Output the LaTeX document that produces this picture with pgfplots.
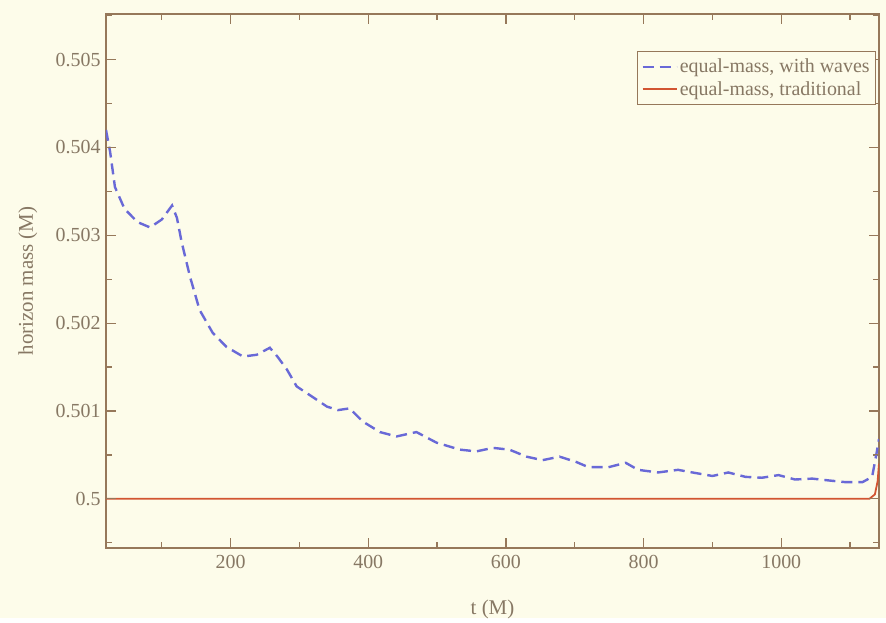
\documentclass[border=0pt]{standalone}
\usepackage{pgfplots}
\pgfplotsset{compat=1.18}
\usepackage{fontspec}
\setmainfont{Liberation Serif}
\definecolor{bg}{RGB}{253,252,234}
\definecolor{axc}{RGB}{150,120,90}
\definecolor{txt}{RGB}{135,120,100}
\definecolor{blu}{RGB}{105,105,215}
\definecolor{rline}{RGB}{210,85,50}
\begin{document}
\begin{tikzpicture}
\fill[bg] (-106bp,-70bp) rectangle (780bp,548bp);
\begin{axis}[
  at={(0,0)}, anchor=south west,
  scale only axis, width=773bp, height=534bp,
  % y data are given in M; they are shown in units of 0.001 M above 0.5 M
  y filter/.expression={(y-0.5)*1000},
  xmin=19, xmax=1142, ymin=-0.56, ymax=5.52,
  xtick={200,400,600,800,1000}, minor xtick={100,300,500,700,900,1100},
  ytick={0,1,2,3,4,5},
  yticklabels={0.5,0.501,0.502,0.503,0.504,0.505},
  minor ytick={-0.5,0.5,1.5,2.5,3.5,4.5,5.5},
  tick align=inside, major tick length=10bp, minor tick length=6bp,
  axis line style={draw=axc, line width=1.6bp},
  xtick style={draw=axc, line width=1.2bp},
  ytick style={draw=axc, line width=1.2bp},
  tick label style={font=\fontsize{20}{22}\selectfont, text=txt},
  yticklabel style={xshift=-2bp},
  xticklabel style={yshift=-4bp},
  /pgf/number format/assume math mode=true,
  /pgf/number format/1000 sep={},
  xlabel={t (M)}, ylabel={horizon mass (M)},
  label style={font=\fontsize{21}{23}\selectfont, text=txt},
  xlabel style={at={(axis description cs:0.5,-0.116)}, anchor=center},
  ylabel style={at={(axis description cs:-0.101,0.5)}, anchor=center},
  legend style={at={(rel axis cs:0.996,0.931)}, anchor=north east,
    draw=axc, line width=0.6bp, fill=bg, text=txt,
    font=\fontsize{20}{22}\selectfont, row sep=3bp, inner xsep=4bp, inner ysep=6bp},
  legend cell align=left,
  legend image code/.code={\draw[#1] (0bp,0bp) -- (34bp,0bp);},
]
\addplot[blu, line width=2.4bp, dash pattern=on 11bp off 6bp] coordinates {
(19,0.50420) (25,0.50395) (32,0.50355) (46,0.50330) (65,0.50315) (83,0.50309)
(100,0.50318) (115,0.50334) (122,0.50320) (129,0.50292) (141,0.50253)
(155,0.50215) (174,0.50189) (194,0.50173) (218,0.50162) (238,0.50164)
(257,0.50172) (268,0.50162) (282,0.50147) (296,0.50128) (319,0.50116)
(340,0.50105) (356,0.50101) (373,0.50103) (392,0.50088) (417,0.50076)
(441,0.50071) (470,0.50076) (499,0.50064) (533,0.50056) (557,0.50054)
(581,0.50058) (605,0.50056) (630,0.50048) (653,0.50044) (678,0.50048)
(702,0.50042) (720,0.50036) (749,0.50036) (774,0.50041) (792,0.50033)
(821,0.50030) (850,0.50033) (871,0.50030) (900,0.50026) (923,0.50030)
(948,0.50025) (972,0.50024) (996,0.50027) (1020,0.50022) (1045,0.50023)
(1068,0.50021) (1093,0.50019) (1118,0.50019) (1132,0.50025) (1138,0.50050)
(1142,0.50068)
};
\addlegendentry{equal-mass, with waves}
\addplot[rline, line width=1.8bp] coordinates {
(19,0.5) (1128,0.5) (1136,0.50005) (1140,0.50020) (1142,0.50040)
};
\addlegendentry{equal-mass, traditional}
\pgfplotsinvokeforeach{200,400,600,800,1000}{
  \draw[axc, line width=1.2bp] (axis cs:#1,-0.56) -- ++(0bp,10bp);
  \draw[axc, line width=1.2bp] (axis cs:#1,5.52) -- ++(0bp,-10bp);
}
\pgfplotsinvokeforeach{100,300,500,700,900,1100}{
  \draw[axc, line width=1bp] (axis cs:#1,-0.56) -- ++(0bp,6bp);
  \draw[axc, line width=1bp] (axis cs:#1,5.52) -- ++(0bp,-6bp);
}
\pgfplotsinvokeforeach{0,1,2,3,4,5}{
  \draw[axc, line width=1.2bp] (axis cs:19,#1) -- ++(10bp,0bp);
  \draw[axc, line width=1.2bp] (axis cs:1142,#1) -- ++(-10bp,0bp);
}
\pgfplotsinvokeforeach{-0.5,0.5,1.5,2.5,3.5,4.5,5.5}{
  \draw[axc, line width=1bp] (axis cs:19,#1) -- ++(6bp,0bp);
  \draw[axc, line width=1bp] (axis cs:1142,#1) -- ++(-6bp,0bp);
}
\end{axis}
\end{tikzpicture}
\end{document}
